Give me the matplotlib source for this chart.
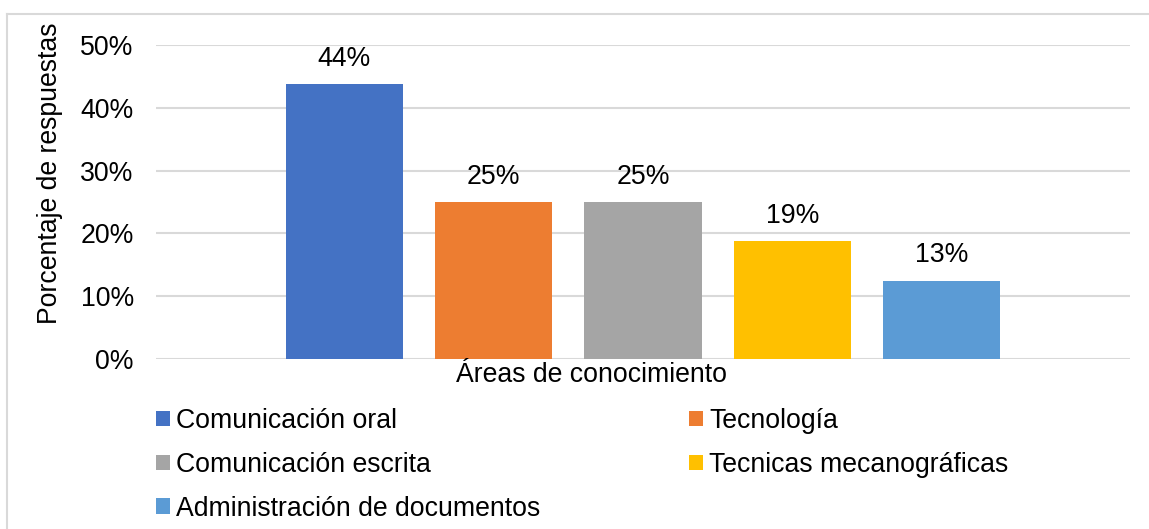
import matplotlib
matplotlib.use("Agg")
import matplotlib.pyplot as plt
from matplotlib.patches import Patch
from matplotlib.lines import Line2D

categories = ["Comunicación oral", "Tecnología", "Comunicación escrita",
              "Tecnicas mecanográficas", "Administración de documentos"]
values = [0.4375, 0.25, 0.25, 0.1875, 0.125]
labels = ["44%", "25%", "25%", "19%", "13%"]
colors = ["#4472C4", "#ED7D31", "#A5A5A5", "#FFC000", "#5B9BD5"]
yticks = [0, 0.1, 0.2, 0.3, 0.4, 0.5]
ytick_labels = ["0%", "10%", "20%", "30%", "40%", "50%"]
group_label = "Áreas de conocimiento"
ylabel = "Porcentaje de respuestas"

plt.rcParams["font.family"] = ["Liberation Sans", "DejaVu Sans"]
FS = 19.2

W, H = 1149, 529
fig = plt.figure(figsize=(W / 100, H / 100), dpi=100)

# outer frame (top and left edges visible)
fig.add_artist(Line2D([7 / W, 1], [1 - 14 / H, 1 - 14 / H], transform=fig.transFigure,
                      color="#D9D9D9", lw=1.5))
fig.add_artist(Line2D([7 / W, 7 / W], [0, 1 - 14 / H], transform=fig.transFigure,
                      color="#D9D9D9", lw=1.5))

left, right = 156 / W, 1130 / W
bottom, top = 1 - 359 / H, 1 - 45 / H
ax = fig.add_axes([left, bottom, right - left, top - bottom])

x = list(range(len(values)))
bars = ax.bar(x, values, width=0.785, color=colors, zorder=3)
half = 3.26
ax.set_xlim(2 - half, 2 + half)
ax.set_ylim(0, 0.5)
ax.set_yticks(yticks)
ax.set_yticklabels(ytick_labels, fontsize=FS)
ax.tick_params(axis="y", length=0, pad=16)
ax.set_xticks([])
for s in ax.spines.values():
    s.set_visible(False)
ax.grid(axis="y", color="#D9D9D9", lw=1.5, zorder=0)
ax.set_axisbelow(True)

for b, lab in zip(bars, labels):
    ax.annotate(lab, (b.get_x() + b.get_width() / 2, b.get_height()),
                xytext=(0, 9), textcoords="offset points",
                ha="center", va="bottom", fontsize=FS)

fig.text(592 / W, 1 - 375 / H, group_label, ha="center", va="center", fontsize=FS)
fig.text(50 / W, 1 - 173 / H, ylabel, ha="center", va="center", rotation=90, fontsize=FS)

order = [0, 2, 4, 1, 3]
handles = [Patch(facecolor=colors[i], edgecolor="none") for i in order]
leg_labels = [categories[i] for i in order]
leg = fig.legend(handles, leg_labels, ncol=2, loc="upper left",
                 bbox_to_anchor=(156 / W, 1 - 408 / H), frameon=False,
                 fontsize=FS, handlelength=0.53, handleheight=0.53,
                 handletextpad=0.23, columnspacing=5.57, labelspacing=0.67,
                 borderpad=0, borderaxespad=0)

fig.savefig("out.png", dpi=100, facecolor="white")
